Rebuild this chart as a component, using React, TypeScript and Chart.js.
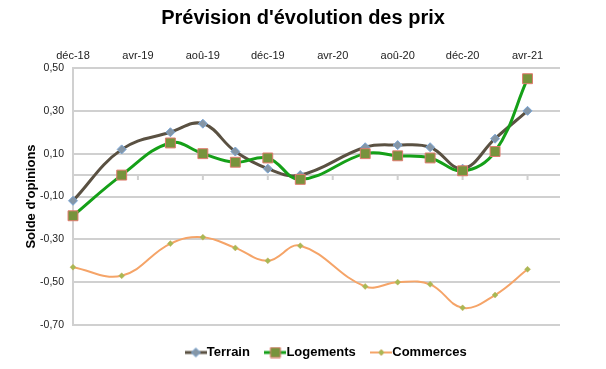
import { useEffect, useRef } from "react";
import { Chart, registerables } from "chart.js";
Chart.register(...registerables);

// months elapsed since déc-18
const months = [0, 3, 6, 8, 10, 12, 14, 18, 20, 22, 24, 26, 28];
const xTickLabels = ["déc-18", "avr-19", "aoû-19", "déc-19", "avr-20", "aoû-20", "déc-20", "avr-21"];
const terrain = [-0.12, 0.12, 0.2, 0.24, 0.11, 0.03, 0.0, 0.13, 0.14, 0.13, 0.03, 0.17, 0.3];
const logements = [-0.19, 0.0, 0.15, 0.1, 0.06, 0.08, -0.02, 0.1, 0.09, 0.08, 0.02, 0.11, 0.45];
const commerces = [-0.43, -0.47, -0.32, -0.29, -0.34, -0.4, -0.33, -0.52, -0.5, -0.51, -0.62, -0.56, -0.44];
const yTicks = [-0.7, -0.5, -0.3, -0.1, 0.1, 0.3, 0.5];
const seriesNames = ["Terrain", "Logements", "Commerces"];

const FONT = "'Liberation Sans', Arial, sans-serif";
const GRID = "#d0d0d0";

const styles = [
  { line: "#5a5142", width: 3, fill: "#8596a6", border: "#7aa6d6", style: "rectRot", r: 4.5, bw: 1 },
  { line: "#15a018", width: 3, fill: "#77933c", border: "#e07a6e", style: "rect", r: 7, bw: 1 },
  { line: "#f5a468", width: 2, fill: "#a7b955", border: "#c9b060", style: "rectRot", r: 3, bw: 0.5 },
];

function legendImage(s: any) {
  const c = document.createElement("canvas");
  c.width = 22;
  c.height = 12;
  const ctx = c.getContext("2d")!;
  ctx.strokeStyle = s.line;
  ctx.lineWidth = s.width;
  ctx.beginPath();
  ctx.moveTo(0, 6);
  ctx.lineTo(22, 6);
  ctx.stroke();
  ctx.fillStyle = s.fill;
  ctx.strokeStyle = s.border;
  ctx.lineWidth = 1;
  ctx.beginPath();
  if (s.style === "rect") {
    ctx.rect(6, 1, 10, 10);
  } else {
    const r = s.r;
    ctx.moveTo(11 - r, 6);
    ctx.lineTo(11, 6 - r);
    ctx.lineTo(11 + r, 6);
    ctx.lineTo(11, 6 + r);
    ctx.closePath();
  }
  ctx.fill();
  ctx.stroke();
  return c;
}

const zeroLine = {
  id: "zeroLine",
  afterLayout(chart: any) {
    if (chart.legend) {
      chart.legend.left += 26;
      chart.legend.right += 26;
    }
  },
  beforeDatasetsDraw(chart: any) {
    const { ctx, chartArea, scales } = chart;
    const x = scales.x;
    const y = scales.y;
    const y0 = y.getPixelForValue(0);
    ctx.save();
    ctx.strokeStyle = GRID;
    ctx.lineWidth = 2;
    ctx.beginPath();
    ctx.moveTo(chartArea.left, y0);
    ctx.lineTo(chartArea.right, y0);
    x.ticks.forEach((t: any) => {
      const px = x.getPixelForValue(t.value);
      ctx.moveTo(px, y0);
      ctx.lineTo(px, y0 + 5);
    });
    ctx.stroke();
    ctx.restore();
  },
};

export default function App() {
  const ref = useRef<HTMLCanvasElement>(null);
  useEffect(() => {
    document.body.style.margin = "0";
    const series = [terrain, logements, commerces];
    const images = styles.map(legendImage);
    const chart = new Chart(ref.current!, {
      type: "line",
      data: {
        datasets: series.map((vals, i) => ({
          label: seriesNames[i],
          data: vals.map((v, j) => ({ x: months[j], y: v })),
          borderColor: styles[i].line,
          borderWidth: styles[i].width,
          backgroundColor: styles[i].fill,
          pointBackgroundColor: styles[i].fill,
          pointBorderColor: styles[i].border,
          pointBorderWidth: styles[i].bw,
          pointStyle: styles[i].style as any,
          pointRadius: styles[i].r,
          tension: 0.4,
          clip: false as any,
          order: 3 - i,
        })),
      },
      options: {
        animation: false,
        responsive: false,
        maintainAspectRatio: false,
        layout: { padding: { left: 0, right: 0, top: 0, bottom: 0 } },
        plugins: {
          tooltip: { enabled: false },
          title: {
            display: true,
            text: "Prévision d'évolution des prix",
            font: { family: FONT, size: 20, weight: "bold" },
            color: "#000",
            padding: { top: 6, bottom: 4 },
          },
          legend: {
            position: "bottom",
            labels: {
              usePointStyle: true,
              pointStyleWidth: 9,
              padding: 21,
              color: "#000",
              font: { family: FONT, size: 13, weight: "bold" },
              generateLabels: () =>
                seriesNames.map((n, i) => ({
                  text: n,
                  pointStyle: images[i] as any,
                  fillStyle: styles[i].fill,
                  strokeStyle: styles[i].line,
                  lineWidth: 0,
                  hidden: false,
                  datasetIndex: i,
                })),
            },
          },
        },
        scales: {
          x: {
            type: "linear",
            position: "top",
            min: 0,
            max: 30,
            grid: { display: false },
            border: { display: false },
            afterBuildTicks: (s: any) => {
              s.ticks = xTickLabels.map((_, i) => ({ value: i * 4 }));
            },
            ticks: {
              padding: -3,
              color: "#222",
              font: { family: FONT, size: 11 },
              callback: (v: any) => xTickLabels[Math.round(Number(v) / 4)] ?? "",
            },
            afterFit: (s: any) => {
              s.height = 34;
            },
          },
          y: {
            min: -0.7,
            max: 0.5,
            afterBuildTicks: (s: any) => {
              s.ticks = yTicks.map((v) => ({ value: v }));
            },
            afterFit: (s: any) => {
              s.width = 73;
            },
            grid: { color: GRID, lineWidth: 2, drawTicks: false },
            border: { display: true, color: GRID, width: 2 },
            ticks: {
              padding: 9,
              color: "#222",
              font: { family: FONT, size: 10.5 },
              callback: (v: any) => Number(v).toFixed(2).replace(".", ","),
            },
            title: {
              display: true,
              text: "Solde d'opinions",
              color: "#000",
              font: { family: FONT, size: 13, weight: "bold" },
              padding: { top: 24, bottom: 0 },
            },
          },
          yR: {
            type: "linear",
            position: "right",
            display: true,
            grid: { display: false },
            border: { display: false },
            ticks: { display: false },
            afterFit: (s: any) => {
              s.width = 46;
            },
          },
        },
      },
      plugins: [zeroLine],
    });
    return () => chart.destroy();
  }, []);
  return (
    <div style={{ width: 606, height: 369 }}>
      <canvas ref={ref} width={606} height={369} style={{ width: 606, height: 369 }} />
    </div>
  );
}
